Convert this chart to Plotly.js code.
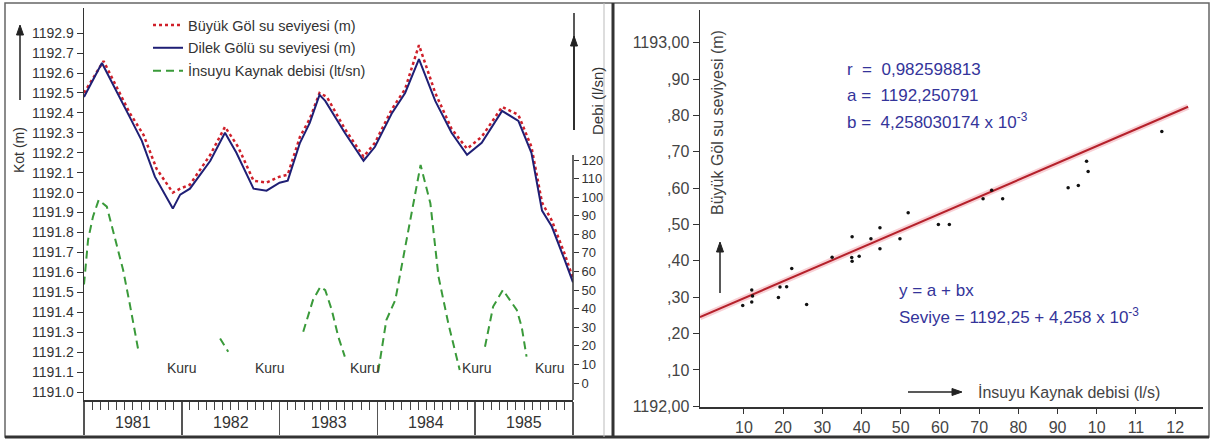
<!DOCTYPE html>
<html>
<head>
<meta charset="utf-8">
<script src="https://cdn.plot.ly/plotly-3.0.1.min.js"></script>
<style>html,body{margin:0;padding:0;background:#fff;}#chart{width:1213px;height:445px;}</style>
</head>
<body>
<div id="chart"></div>
<script>
// ---------- DATA (left panel: months since Jan 1981) ----------
const buyukMonth = [0, 2.4, 5.6, 7.3, 8.9, 10.9, 11.8, 13.0, 15.5, 17.3, 18.9, 20.8, 22.4, 24.0, 25.0, 26.5, 27.7, 28.9, 29.8, 32.0, 34.3, 35.7, 37.8, 39.4, 41.1, 43.1, 45.1, 47.0, 48.8, 51.3, 53.3, 54.9, 56.2, 57.4, 59.0, 60.0];
const buyukLevel = [1192.50, 1192.66, 1192.40, 1192.29, 1192.12, 1192.00, 1192.02, 1192.04, 1192.19, 1192.33, 1192.23, 1192.06, 1192.05, 1192.08, 1192.09, 1192.28, 1192.37, 1192.50, 1192.48, 1192.32, 1192.18, 1192.25, 1192.42, 1192.52, 1192.74, 1192.50, 1192.32, 1192.22, 1192.28, 1192.43, 1192.39, 1192.23, 1191.95, 1191.86, 1191.69, 1191.57];

const dilekMonth = [0, 2.2, 5.6, 7.1, 8.7, 10.9, 11.8, 13.0, 15.5, 17.3, 18.7, 20.8, 22.4, 24.0, 25.0, 26.5, 27.7, 28.9, 29.6, 32.0, 34.3, 35.7, 37.8, 39.4, 41.1, 43.1, 45.1, 47.0, 48.8, 51.3, 53.3, 54.9, 56.2, 57.4, 59.0, 60.0];
const dilekLevel = [1192.48, 1192.65, 1192.38, 1192.26, 1192.08, 1191.92, 1191.99, 1192.02, 1192.16, 1192.30, 1192.20, 1192.02, 1192.01, 1192.05, 1192.06, 1192.25, 1192.35, 1192.49, 1192.46, 1192.30, 1192.16, 1192.23, 1192.40, 1192.50, 1192.67, 1192.46, 1192.30, 1192.19, 1192.25, 1192.41, 1192.36, 1192.20, 1191.91, 1191.83, 1191.66, 1191.55];

const debiMonth = [0, 0.5, 1.1, 1.8, 2.8, 3.6, 4.8, 5.6, 6.7, null, 16.7, 17.7, null, 26.9, 28.1, 29.0, 29.6, 30.4, 31.2, 32.0, null, 36.1, 37.1, 38.2, 39.4, 41.3, 42.5, 43.5, 44.7, 46.1, null, 49.2, 50.2, 51.4, 53.1, 53.7, 54.3];
const debiValue = [53, 77, 89.5, 98.5, 94.9, 80.6, 60.8, 42.9, 16.8, null, 24, 16.8, null, 27.6, 44.7, 51.8, 50, 39.3, 24.9, 14.2, null, 6.1, 33.9, 44.7, 73.4, 117.3, 96.7, 57.2, 32.1, 7, null, 19.5, 41.1, 50.1, 39.3, 30.3, 14.2];

const kuruMonth = [12.0, 22.8, 34.5, 48.2, 57.2];
const kuruText = ['Kuru', 'Kuru', 'Kuru', 'Kuru', 'Kuru'];

const years = ['1981', '1982', '1983', '1984', '1985'];
const yearCenters = [6, 18, 30, 42, 54];
const yearBounds = [0, 12, 24, 36, 48, 60];

const kotTickVals = [1191.0, 1191.1, 1191.2, 1191.3, 1191.4, 1191.5, 1191.6, 1191.7, 1191.8, 1191.9, 1192.0, 1192.1, 1192.2, 1192.3, 1192.4, 1192.5, 1192.6, 1192.7, 1192.8];
const kotTickText = ['1191.0', '1191.1', '1191.2', '1191.3', '1191.4', '1191.5', '1191.6', '1191.7', '1191.8', '1191.9', '1192.0', '1192.1', '1192.2', '1192.3', '1192.4', '1192.5', '1192.6', '1192.7', '1192.9'];
const debiTickVals = [0, 10, 20, 30, 40, 50, 60, 70, 80, 90, 100, 110, 120];

// ---------- DATA (right panel: regression) ----------
const scatterDebi = [9.7, 12.0, 12.2, 12.0, 18.8, 19.2, 20.9, 22.2, 26.0, 32.5, 37.6, 37.5, 37.6, 39.4, 42.4, 44.7, 44.7, 49.8, 51.9, 59.6, 62.4, 71.0, 73.2, 76.0, 92.7, 95.3, 97.4, 97.8, 116.6];
const scatterLevel = [1192.277, 1192.320, 1192.303, 1192.287, 1192.299, 1192.328, 1192.329, 1192.379, 1192.280, 1192.410, 1192.466, 1192.409, 1192.399, 1192.413, 1192.461, 1192.491, 1192.433, 1192.461, 1192.532, 1192.500, 1192.500, 1192.571, 1192.594, 1192.571, 1192.601, 1192.607, 1192.674, 1192.646, 1192.756];
const fitDebi = [-1.2, 123.3];
const fitLevel = [1192.245, 1192.824];

const regXTickVals = [10, 20, 30, 40, 50, 60, 70, 80, 90, 100, 110, 120];
const regXTickText = ['10', '20', '30', '40', '50', '60', '70', '80', '90', '10', '11', '12'];
const regYTickVals = [1192.0, 1192.1, 1192.2, 1192.3, 1192.4, 1192.5, 1192.6, 1192.7, 1192.8, 1192.9, 1193.0];
const regYTickText = ['1192,00', ',10', ',20', ',30', ',40', ',50', ',60', ',70', ',80', ',90', '1193,00'];

// ---------- LAYOUT ----------
const W = 1213, H = 445;
const X = px => px / W;
const Y = py => 1 - py / H;
const SANS = '"Liberation Sans", Arial, sans-serif';
const INK = '#333';
const BLUE_TXT = '#34349a';

const traces = [
  {x: buyukMonth, y: buyukLevel, xaxis: 'x', yaxis: 'y', mode: 'lines', name: 'Büyük Göl su seviyesi (m)', legendgroup: 'a',
   line: {color: '#d0202a', dash: 'dot', width: 2.5}},
  {x: dilekMonth, y: dilekLevel, xaxis: 'x', yaxis: 'y', mode: 'lines', name: 'Dilek Gölü su seviyesi (m)', legendgroup: 'b',
   line: {color: '#1f1f75', width: 2}},
  {x: debiMonth, y: debiValue, xaxis: 'x', yaxis: 'y2', mode: 'lines', name: 'İnsuyu Kaynak debisi (lt/sn)', legendgroup: 'c',
   connectgaps: false, line: {color: '#3a9a3a', dash: '8px,5px', width: 2}},
  {x: fitDebi, y: fitLevel, xaxis: 'x3', yaxis: 'y3', mode: 'lines', showlegend: false, hoverinfo: 'skip',
   line: {color: 'rgba(235,120,135,0.35)', width: 6}},
  {x: fitDebi, y: fitLevel, xaxis: 'x3', yaxis: 'y3', mode: 'lines', showlegend: false,
   line: {color: '#b5212b', width: 2}},
  {x: scatterDebi, y: scatterLevel, xaxis: 'x3', yaxis: 'y3', mode: 'markers', showlegend: false,
   marker: {size: 3.5, color: '#111'}}
];

const annotations = [];
// year labels
years.forEach((t, i) => annotations.push({xref: 'x', yref: 'paper', x: yearCenters[i], y: Y(422), text: t,
  showarrow: false, font: {family: SANS, size: 16, color: INK}, xanchor: 'center', yanchor: 'middle'}));
// Kuru labels
kuruMonth.forEach((m, i) => annotations.push({xref: 'x', yref: 'paper', x: m, y: Y(368), text: kuruText[i],
  showarrow: false, font: {family: SANS, size: 14, color: INK}, xanchor: 'center', yanchor: 'middle'}));
// left axis titles
annotations.push({xref: 'paper', yref: 'paper', x: X(19), y: Y(150), text: 'Kot (m)', textangle: -90, showarrow: false,
  font: {family: SANS, size: 14, color: INK}, xanchor: 'center', yanchor: 'middle'});
annotations.push({xref: 'paper', yref: 'paper', x: X(598), y: Y(101), text: 'Debi (l/sn)', textangle: -90, showarrow: false,
  font: {family: SANS, size: 15, color: INK}, xanchor: 'center', yanchor: 'middle'});
// right panel axis titles
annotations.push({xref: 'paper', yref: 'paper', x: X(718), y: Y(122), text: 'Büyük Göl su seviyesi (m)', textangle: -90,
  showarrow: false, font: {family: SANS, size: 16, color: '#444'}, xanchor: 'center', yanchor: 'middle'});
annotations.push({xref: 'paper', yref: 'paper', x: X(976), y: Y(392), text: 'İnsuyu Kaynak debisi (l/s)',
  showarrow: false, font: {family: SANS, size: 16, color: '#444'}, xanchor: 'left', yanchor: 'middle'});
// regression texts
const regTexts = [
  ['r\u00a0\u00a0=\u00a0\u00a00,982598813', 845, 70],
  ['a\u00a0=\u00a0\u00a01192,250791', 845, 96],
  ['b\u00a0=\u00a0\u00a04,258030174 x 10<sup>-3</sup>', 845, 121],
  ['y = a + bx', 897, 290],
  ['Seviye = 1192,25 + 4,258 x 10<sup>-3</sup>', 897, 316]
];
regTexts.forEach(r => annotations.push({xref: 'paper', yref: 'paper', x: X(r[1]), y: Y(r[2]), text: r[0],
  showarrow: false, font: {family: SANS, size: 17, color: BLUE_TXT}, xanchor: 'left', yanchor: 'middle'}));

// arrow decorations (pixel positions converted to paper)
function arrow(x1, y1, x2, y2) {
  // tail (x1,y1) -> head (x2,y2), in pixels
  const dx = x2 - x1, dy = y2 - y1, len = Math.hypot(dx, dy);
  const ux = dx / len, uy = dy / len, hl = 10, hw = 3.5;
  const bx = x2 - ux * hl, by = y2 - uy * hl;
  const p1 = [bx - uy * hw, by + ux * hw], p2 = [bx + uy * hw, by - ux * hw];
  return [
    {type: 'line', xref: 'paper', yref: 'paper', x0: X(x1), y0: Y(y1), x1: X(bx), y1: Y(by), line: {color: '#222', width: 1.5}},
    {type: 'path', xref: 'paper', yref: 'paper', fillcolor: '#222', line: {color: '#222', width: 1},
     path: `M${X(x2)},${Y(y2)} L${X(p1[0])},${Y(p1[1])} L${X(p2[0])},${Y(p2[1])} Z`}
  ];
}

const shapes = [
  // outer frame
  {type: 'rect', xref: 'paper', yref: 'paper', x0: X(5), x1: X(1209), y0: Y(437), y1: Y(3), line: {color: '#666', width: 1.5}},
  {type: 'line', xref: 'paper', yref: 'paper', x0: X(5), x1: X(1209), y0: Y(437), y1: Y(437), line: {color: '#333', width: 3}},
  // panel divider
  {type: 'line', xref: 'paper', yref: 'paper', x0: X(613), x1: X(613), y0: Y(437), y1: Y(3), line: {color: '#333', width: 3}},
  {type: 'line', xref: 'paper', yref: 'paper', x0: X(604), x1: X(604), y0: Y(437), y1: Y(3), line: {color: '#bbb', width: 1}},
  // Debi axis arrow shaft top + spine
  {type: 'line', xref: 'paper', yref: 'paper', x0: X(574), x1: X(574), y0: Y(130), y1: Y(13), line: {color: '#222', width: 1.5}},
  {type: 'line', xref: 'paper', yref: 'paper', x0: X(573), x1: X(573), y0: Y(400), y1: Y(155), line: {color: '#333', width: 1.5}}
].concat(arrow(20, 100, 20, 25), arrow(574, 130, 574, 36), arrow(720, 293, 720, 242), arrow(908, 392, 962, 392));

const layout = {
  width: W, height: H,
  margin: {l: 0, r: 0, t: 0, b: 0},
  paper_bgcolor: '#fff', plot_bgcolor: 'rgba(0,0,0,0)',
  font: {family: SANS, color: INK},
  showlegend: true,
  legend: {x: X(148), y: Y(9), xanchor: 'left', yanchor: 'top', bgcolor: 'rgba(0,0,0,0)',
    font: {family: SANS, size: 14.5, color: INK}, tracegroupgap: 1, itemwidth: 30},
  xaxis: {domain: [X(84), X(573)], range: [0, 60], anchor: 'y', showgrid: false, zeroline: false,
    showline: true, linecolor: INK, linewidth: 1.5,
    tickmode: 'array', tickvals: yearBounds, ticks: 'outside', ticklen: 33, tickwidth: 1.5, tickcolor: '#555',
    showticklabels: false,
    minor: {tickmode: 'linear', tick0: 0, dtick: 1, ticks: 'outside', ticklen: 8, tickwidth: 1, tickcolor: '#444', showgrid: false}},
  yaxis: {domain: [Y(400), Y(8)], range: [1190.96, 1192.926], anchor: 'x', showgrid: false, zeroline: false,
    showline: true, linecolor: INK, linewidth: 1.5,
    tickmode: 'array', tickvals: kotTickVals, ticktext: kotTickText, ticks: 'outside', ticklen: 6, tickcolor: INK,
    tickfont: {family: SANS, size: 14, color: INK}},
  yaxis2: {overlaying: 'y', side: 'right', anchor: 'x', range: [-9.15, 201.8], showgrid: false, zeroline: false,
    showline: false, tickmode: 'array', tickvals: debiTickVals, ticks: 'outside', ticklen: 5, tickcolor: INK,
    tickfont: {family: SANS, size: 13, color: INK}},
  xaxis3: {domain: [X(700), X(1203)], range: [-1.2, 127.1], anchor: 'y3', showgrid: false, zeroline: false,
    showline: true, linecolor: INK, linewidth: 1.5,
    tickmode: 'array', tickvals: regXTickVals, ticktext: regXTickText, ticks: 'outside', ticklen: 5, tickcolor: INK,
    tickfont: {family: SANS, size: 16, color: '#444'}},
  yaxis3: {domain: [Y(407), Y(10)], range: [1191.998, 1193.09], anchor: 'x3', showgrid: false, zeroline: false,
    showline: true, linecolor: INK, linewidth: 1.5,
    tickmode: 'array', tickvals: regYTickVals, ticktext: regYTickText, ticks: 'outside', ticklen: 6, tickcolor: INK,
    tickfont: {family: SANS, size: 16, color: '#444'}},
  annotations: annotations,
  shapes: shapes
};

Plotly.newPlot('chart', traces, layout, {displayModeBar: false, staticPlot: true});
</script>
</body>
</html>
